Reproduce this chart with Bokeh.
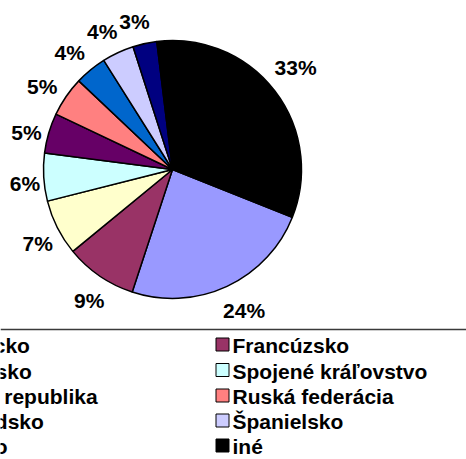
import math
from bokeh.plotting import figure
from bokeh.models import Range1d
from bokeh.embed import file_html
from bokeh.resources import INLINE
from bokeh.core.properties import value

# ---- data (legend order = series order) ----
countries = ["Nemecko", "Francúzsko", "Taliansko", "Spojené kráľovstvo",
             "Česká republika", "Ruská federácia", "Holandsko", "Španielsko",
             "Poľsko", "iné"]
shares = [24, 9, 7, 6, 5, 5, 4, 4, 3, 33]
colors = ["#9999FF", "#993366", "#FFFFCC", "#CCFFFF", "#660066",
          "#FF8080", "#0066CC", "#CCCCFF", "#000080", "#000000"]

# ---- layout ----
W, H = 466, 459
CX, CY = 172, 169          # pie centre (screen px)
R = 129
FIRST_ANGLE = 353 - 360 + 33 / 100 * 360   # clockwise-from-top start of series 1
FONT = "Liberation Sans"

p = figure(width=W, height=H, output_backend="svg", toolbar_location=None,
           x_range=Range1d(0, W), y_range=Range1d(0, H),
           x_axis_type=None, y_axis_type=None, min_border=0)
p.grid.visible = False
p.outline_line_color = None
p.background_fill_color = "white"
p.border_fill_color = "white"

def sy(y):
    return H - y

total = sum(shares)
theta = FIRST_ANGLE
starts, ends, lx, ly, labels = [], [], [], [], []
for s in shares:
    t1 = theta
    t2 = theta + s / total * 360.0
    theta = t2
    # bokeh angles (ccw from +x)
    starts.append(math.radians(90 - t2))
    ends.append(math.radians(90 - t1))
    mid = math.radians((t1 + t2) / 2 - 2)
    ux, uy = math.sin(mid), -math.cos(mid)   # screen direction
    txt = f"{round(s / total * 100)}%"
    w = 12 * (len(txt) - 1) + 19
    d = R + 2 + abs(ux) * w / 2 + abs(uy) * 19
    lx.append(CX + ux * d)
    ly.append(sy(CY + uy * d))
    labels.append(txt)

p.wedge(x=[CX] * len(shares), y=[sy(CY)] * len(shares), radius=R,
        start_angle=starts, end_angle=ends, direction="anticlock",
        fill_color=colors, line_color="black", line_width=1.5)

p.text(x=lx, y=ly, text=labels, text_align="center", text_baseline="middle",
       text_font=value(FONT), text_font_style="bold", text_font_size="21px",
       text_color="black")

# ---- legend (manual, two columns, left column partly outside the view) ----
p.line(x=[0, W], y=[sy(329), sy(329)], line_color="#3a3a3a", line_width=1.6)

col_x = [-81, 215]
row_y = [344, 369.5, 395, 420, 445]
mx, my, tx, ty = [], [], [], []
for i in range(len(countries)):
    c = i % 2
    r = i // 2
    mx.append(col_x[c] + 7)
    my.append(sy(row_y[r]))
    tx.append(col_x[c] + 17)
    ty.append(sy(row_y[r] + 1))

p.rect(x=mx, y=my, width=13, height=13, fill_color=colors,
       line_color="black", line_width=1)
p.text(x=tx, y=ty, text=countries, text_align="left",
       text_baseline="middle", text_font=value(FONT),
       text_font_style="bold", text_font_size="21px", text_color="black")

open("out.html", "w").write(file_html(p, INLINE))
